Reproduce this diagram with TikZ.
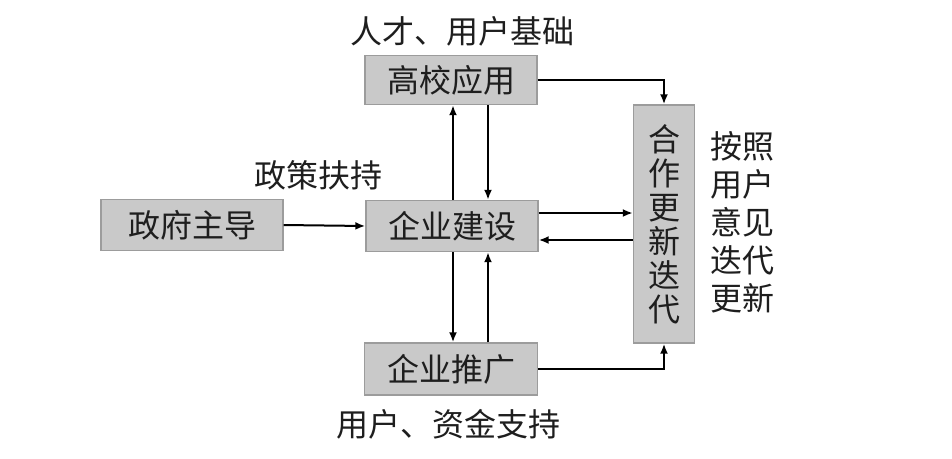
\documentclass[tikz,border=0pt]{standalone}
\usepackage{fontspec}
\setmainfont{Noto Sans CJK SC}
\usepackage{xcolor}
\usepackage{tikz}
\usetikzlibrary{arrows.meta,positioning,calc}
\definecolor{boxfill}{HTML}{C9C9C9}
\definecolor{boxline}{HTML}{9C9C9C}
\definecolor{ink}{HTML}{1E1E1E}
\tikzset{
  >={Latex[length=10pt,width=8pt]},
  unit/.style={draw=boxline,fill=boxfill,line width=1.4pt,inner sep=0pt,text=ink,font=\fontsize{32}{34}\selectfont},
  note/.style={align=center,text=ink,inner sep=0pt,font=\fontsize{32}{38}\selectfont},
  link/.style={->,line width=2pt,draw=black}
}
\begin{document}
\begin{tikzpicture}[x=1pt,y=1pt]
  \useasboundingbox (0,0) rectangle (952,-458);
  % blocks
  \node[unit,minimum width=172pt,minimum height=49pt] (gx) at (451,-80) {高校应用};
  \node[unit,minimum width=182pt,minimum height=51pt] (zf) at (192,-225) {政府主导};
  \node[unit,minimum width=172pt,minimum height=51pt] (qj) at (452,-226) {企业建设};
  \node[unit,minimum width=173pt,minimum height=52pt] (tg) at (451,-369) {企业推广};
  \node[unit,minimum width=61pt,minimum height=238pt,align=center] (hz) at (664,-224)
    {合\\作\\更\\新\\迭\\代};
  % texts beside the blocks
  \node[note] (jc) at (462,-31) {人才、用户基础};
  \node[note] (zc) at (318,-175) {政策扶持};
  \node[note] (zj) at (448,-424) {用户、资金支持};
  \node[note,align=left] (yj) at (742,-222) {按照\\用户\\意见\\迭代\\更新};
  % connectors
  \draw[link] (zf.east) -- (qj.west);
  \draw[link] (gx.east) -| (hz.north);
  \draw[link] (tg.east) -| (hz.south);
  \draw[link] ([yshift=13pt]qj.east) -- ([yshift=13pt]qj.east -| hz.west);
  \draw[link] ([yshift=-14pt]qj.east -| hz.west) -- ([yshift=-14pt]qj.east);
  \draw[link] ([xshift=1pt]qj.north) -- ([xshift=1pt]qj.north |- gx.south);
  \draw[link] ([xshift=37pt]gx.south) -- ([xshift=37pt]gx.south |- qj.north);
  \draw[link] ([xshift=1pt]qj.south) -- ([xshift=1pt]qj.south |- tg.north);
  \draw[link] ([xshift=37pt]tg.north) -- ([xshift=37pt]tg.north |- qj.south);
\end{tikzpicture}
\end{document}
